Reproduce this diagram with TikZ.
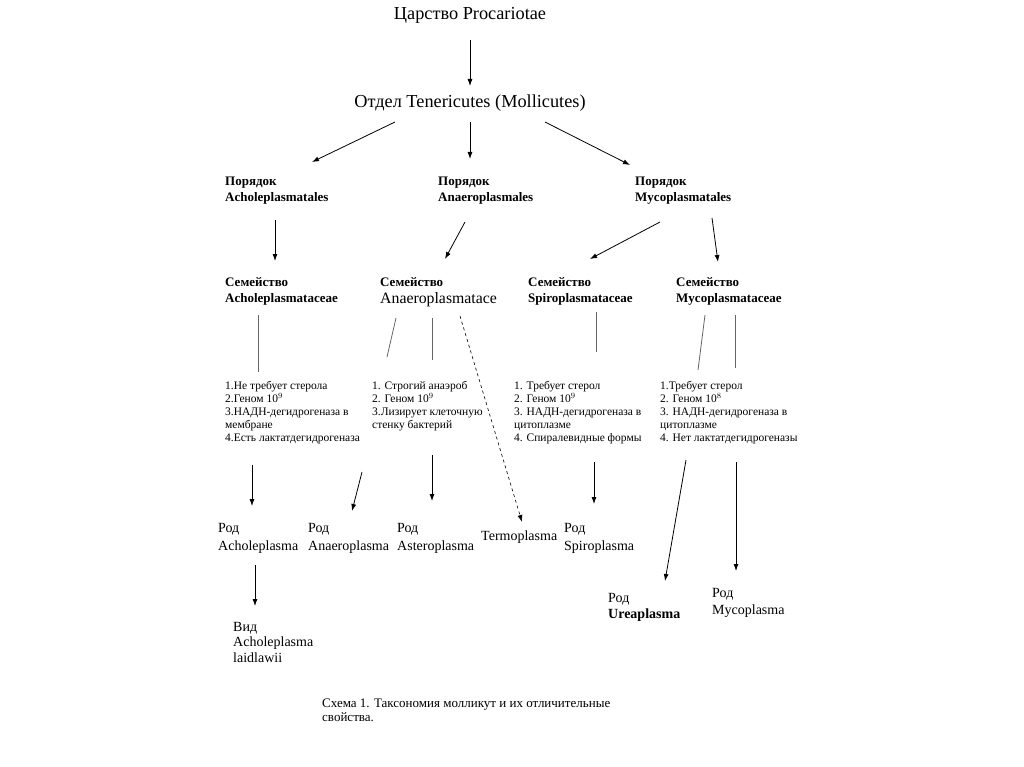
\documentclass[tikz,border=0pt]{standalone}
\usepackage{fontspec}
\setmainfont{Liberation Serif}
\usetikzlibrary{arrows.meta,positioning}
\tikzset{
  head/.style={font=\fontsize{18.3}{20}\selectfont,inner sep=0pt},
  rank/.style={anchor=north west,align=left,inner sep=0pt,
               font=\fontsize{13}{16}\selectfont\bfseries},
  props/.style={anchor=north west,align=left,inner sep=0pt,
                font=\fontsize{11.5}{13}\selectfont},
  genus/.style={anchor=north west,align=left,inner sep=0pt,
                font=\fontsize{14}{18}\selectfont},
  link/.style={-{Latex[length=7pt,width=5pt]},line width=0.8pt},
  stem/.style={line width=0.8pt,black!60},
}
\begin{document}
\begin{tikzpicture}[x=1pt,y=-1pt]
  \useasboundingbox[fill=white] (0,0) rectangle (1024,767);

  % Kingdom and division
  \node[head] (kingdom)  at (470,15)  {Царство Procariotae};
  \node[head] (division) at (470,103) {Отдел Tenericutes (Mollicutes)};
  \draw[link] (470,40) coordinate (k-out) -- (470,86) coordinate (d-in);

  % Orders
  \node[rank] (ordAchol) at (225,177) {Порядок\\Acholeplasmatales};
  \node[rank] (ordAnaer) at (438,177) {Порядок\\Anaeroplasmales};
  \node[rank] (ordMyco)  at (635,177) {Порядок\\Mycoplasmatales};

  \coordinate (d-left)  at (395,122);
  \coordinate (d-mid)   at (470,122);
  \coordinate (d-right) at (545,122);
  \draw[link] (d-left)  -- (312,162) coordinate (oA-in);
  \draw[link] (d-mid)   -- (470,159) coordinate (oB-in);
  \draw[link] (d-right) -- (630,165) coordinate (oC-in);

  % Families
  \node[rank] (famAchol) at (225,277) {Семейство\\Acholeplasmataceae};
  \node[anchor=north west,align=left,inner sep=0pt,font=\fontsize{13}{17}\selectfont] (famAnaer) at (380,277)
       {\bfseries Семейство\\\fontsize{15.8}{17}\selectfont Anaeroplasmatace};
  \node[rank] (famSpiro) at (528,277) {Семейство\\Spiroplasmataceae};
  \node[rank] (famMyco)  at (676,277) {Семейство\\Mycoplasmataceae};

  \draw[link] (275,220) coordinate (oA-out) -- (275,261);
  \draw[link] (465,222) coordinate (oB-out) -- (445,259);
  \draw[link] (660,222) coordinate (oC-out1) -- (590,259);
  \draw[link] (712,218) coordinate (oC-out2) -- (718,262);

  % Stems from families
  \draw[stem] (258,315) -- (258,372);
  \draw[stem] (396,318) -- (387,357);
  \draw[stem] (432,318) -- (432,360);
  \draw[stem] (596,312) -- (596,352);
  \draw[stem] (705,315) -- (698,370);
  \draw[stem] (735,315) -- (735,368);
  \draw[link,dashed,line width=0.6pt] (460,316) coordinate (fB-out) -- (522,522) coordinate (termo-in);

  % Distinguishing properties
  \node[props] (propAchol) at (225,381)
       {1.Не требует стерола\\2.Геном 10$^{9}$\\3.НАДН-дегидрогеназа в\\мембране\\4.Есть лактатдегидрогеназа};
  \node[props] (propAnaer) at (372,381)
       {1. Строгий анаэроб\\2. Геном 10$^{9}$\\3.Лизирует клеточную\\стенку бактерий};
  \node[props] (propSpiro) at (514,381)
       {1. Требует стерол\\2. Геном 10$^{9}$\\3. НАДН-дегидрогеназа в\\цитоплазме\\4. Спиралевидные формы};
  \node[props] (propMyco)  at (660,381)
       {1.Требует стерол\\2. Геном 10$^{8}$\\3. НАДН-дегидрогеназа в\\цитоплазме\\4. Нет лактатдегидрогеназы};

  % Genera
  \node[genus] (genAchol) at (218,523) {Род\\Acholeplasma};
  \node[genus] (genAnaer) at (308,523) {Род\\Anaeroplasma};
  \node[genus] (genAster) at (397,523) {Род\\Asteroplasma};
  \node[genus] (genTermo) at (481,531) {Termoplasma};
  \node[genus] (genSpiro) at (564,523) {Род\\Spiroplasma};

  \draw[link] (252,465) -- (252,506);
  \draw[link] (362,472) -- (352,511);
  \draw[link] (432,455) -- (432,501);
  \draw[link] (594,462) -- (594,504);
  \draw[link] (686,460) -- (665,581);
  \draw[link] (736,462) -- (736,571);

  \node[genus,font=\fontsize{14}{16}\selectfont] (genUrea) at (608,593) {Род\\\textbf{Ureaplasma}};
  \node[genus,font=\fontsize{14}{17}\selectfont] (genMyco) at (712,588) {Род\\Mycoplasma};

  % Species
  \draw[link] (255,565) -- (255,606);
  \node[genus,font=\fontsize{14}{15.5}\selectfont] (spLaid) at (233,622) {Вид\\Acholeplasma\\laidlawii};

  % Caption
  \node[anchor=north west,align=left,inner sep=0pt,font=\fontsize{13}{13.5}\selectfont] (caption) at (322,699)
       {Схема 1. Таксономия молликут и их отличительные\\свойства.};
\end{tikzpicture}
\end{document}
